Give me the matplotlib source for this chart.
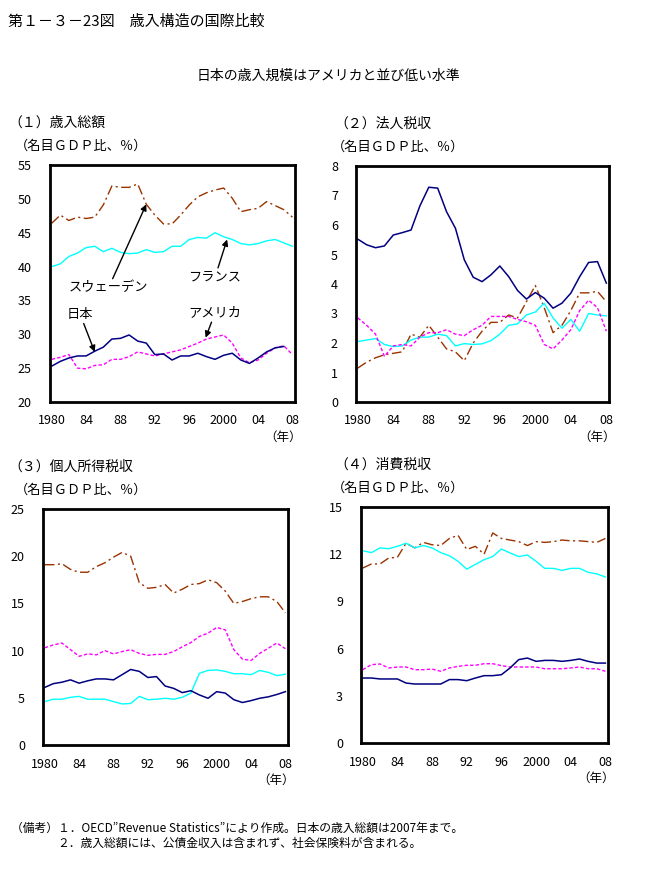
import matplotlib
matplotlib.use("Agg")
import matplotlib.pyplot as plt

plt.rcParams['font.family'] = ['Noto Sans CJK JP', 'DejaVu Sans']

years = list(range(1980, 2009))
years_jp_total = list(range(1980, 2008))

# (1) total revenue (% of nominal GDP)
total_japan = [25.3, 26.0, 26.5, 26.8, 26.8, 27.5, 28.1, 29.3, 29.4, 29.9, 29.0, 28.7, 27.0, 27.1,
               26.2, 26.8, 26.8, 27.2, 26.7, 26.3, 26.9, 27.2, 26.2, 25.7, 26.5, 27.4, 28.0, 28.2]
total_usa = [26.3, 26.6, 27.0, 25.0, 24.9, 25.4, 25.5, 26.3, 26.3, 26.7, 27.4, 27.1, 26.8, 27.1,
             27.4, 27.7, 28.2, 28.7, 29.3, 29.6, 29.9, 28.7, 26.5, 25.8, 26.2, 27.2, 28.0, 28.3, 27.0]
total_france = [40.0, 40.4, 41.5, 42.0, 42.8, 43.0, 42.2, 42.7, 42.1, 41.9, 42.0, 42.5, 42.1, 42.2,
                43.0, 43.0, 44.0, 44.3, 44.2, 45.0, 44.4, 44.0, 43.4, 43.2, 43.4, 43.8, 44.0, 43.5, 43.0]
total_sweden = [46.4, 47.6, 46.8, 47.3, 47.1, 47.3, 49.1, 51.9, 51.7, 51.7, 52.2, 49.2, 47.6, 46.3,
                46.3, 47.6, 49.1, 50.3, 50.9, 51.3, 51.6, 50.1, 48.1, 48.4, 48.6, 49.6, 49.0, 48.4, 47.3]

# (2) corporate tax
corp_japan = [5.52, 5.33, 5.23, 5.29, 5.66, 5.74, 5.83, 6.65, 7.28, 7.25, 6.45, 5.89, 4.82, 4.23,
              4.08, 4.31, 4.61, 4.25, 3.78, 3.49, 3.71, 3.52, 3.18, 3.35, 3.69, 4.25, 4.73, 4.76, 4.03]
corp_usa = [2.85, 2.6, 2.3, 1.55, 1.9, 1.95, 1.9, 2.2, 2.35, 2.35, 2.45, 2.3, 2.25, 2.45,
            2.6, 2.9, 2.9, 2.9, 2.8, 2.72, 2.6, 1.95, 1.8, 2.1, 2.45, 3.1, 3.45, 3.2, 2.4]
corp_france = [2.05, 2.1, 2.15, 1.95, 1.88, 1.9, 2.1, 2.2, 2.2, 2.3, 2.25, 1.9, 1.98, 1.95,
               1.97, 2.08, 2.3, 2.6, 2.65, 2.95, 3.05, 3.35, 2.85, 2.5, 2.8, 2.4, 3.0, 2.95, 2.92]
corp_sweden = [1.15, 1.35, 1.5, 1.6, 1.65, 1.7, 2.3, 2.2, 2.6, 2.2, 1.8, 1.7, 1.4, 2.0,
               2.4, 2.7, 2.7, 2.95, 2.85, 3.4, 3.95, 3.2, 2.35, 2.6, 3.1, 3.7, 3.7, 3.75, 3.4]

# (3) personal income tax
pit_japan = [6.1, 6.5, 6.65, 6.9, 6.55, 6.8, 7.0, 7.0, 6.9, 7.45, 8.0, 7.8, 7.15, 7.25,
             6.25, 6.0, 5.55, 5.75, 5.3, 4.95, 5.65, 5.5, 4.8, 4.5, 4.7, 4.95, 5.1, 5.35, 5.65]
pit_usa = [10.3, 10.6, 10.8, 10.1, 9.4, 9.65, 9.55, 10.0, 9.65, 9.9, 10.1, 9.7, 9.5, 9.6,
           9.6, 9.9, 10.4, 10.85, 11.5, 11.85, 12.45, 12.2, 10.1, 9.1, 8.95, 9.7, 10.25, 10.8, 10.2]
pit_france = [4.6, 4.85, 4.85, 5.05, 5.15, 4.85, 4.85, 4.85, 4.6, 4.35, 4.4, 5.15, 4.8, 4.85,
              4.95, 4.85, 5.05, 5.5, 7.6, 7.9, 7.95, 7.8, 7.55, 7.55, 7.45, 7.9, 7.7, 7.35, 7.5]
pit_sweden = [19.1, 19.1, 19.2, 18.6, 18.3, 18.3, 18.9, 19.3, 19.9, 20.4, 20.0, 17.2, 16.6, 16.7,
              17.0, 16.1, 16.5, 17.0, 17.1, 17.5, 17.2, 16.3, 15.0, 15.2, 15.5, 15.7, 15.7, 15.2, 14.0]

# (4) consumption tax
cons_japan = [4.13, 4.13, 4.07, 4.07, 4.07, 3.81, 3.75, 3.75, 3.75, 3.75, 4.03, 4.03, 3.96, 4.13,
              4.28, 4.28, 4.34, 4.77, 5.3, 5.4, 5.19, 5.25, 5.25, 5.19, 5.25, 5.34, 5.19, 5.08, 5.08]
cons_usa = [4.66, 4.98, 5.02, 4.77, 4.83, 4.83, 4.66, 4.66, 4.7, 4.56, 4.77, 4.87, 4.94, 4.94,
            5.04, 5.04, 4.92, 4.83, 4.83, 4.83, 4.83, 4.72, 4.72, 4.72, 4.77, 4.83, 4.72, 4.72, 4.56]
cons_france = [12.22, 12.1, 12.4, 12.35, 12.5, 12.7, 12.4, 12.55, 12.4, 12.1, 11.9, 11.55, 11.05, 11.35,
               11.65, 11.85, 12.33, 12.08, 11.85, 11.95, 11.55, 11.1, 11.1, 10.97, 11.1, 11.1, 10.85, 10.75, 10.55]
cons_sweden = [11.12, 11.38, 11.38, 11.76, 11.8, 12.7, 12.4, 12.75, 12.6, 12.55, 13.0, 13.2, 12.3, 12.5,
               12.0, 13.35, 13.0, 12.9, 12.8, 12.55, 12.8, 12.75, 12.8, 12.9, 12.85, 12.85, 12.8, 12.75, 13.0]

xtick_pos = [1980, 1984, 1988, 1992, 1996, 2000, 2004, 2008]
xtick_labels = ["1980", "84", "88", "92", "96", "2000", "04", "08"]

panel_titles = ["（１）歳入総額", "（２）法人税収", "（３）個人所得税収", "（４）消費税収"]
unit_label = "（名目ＧＤＰ比、％）"

C_JP = "#000080"
C_US = "#FF00FF"
C_FR = "#00FFFF"
C_SE = "#993300"

W, H = 658, 893
fig = plt.figure(figsize=(W / 100, H / 100), dpi=100)


def add_axes(l, t, r, b):
    return fig.add_axes([l / W, 1 - b / H, (r - l) / W, (b - t) / H])


panels = [
    dict(box=(50, 165, 295, 402), ylim=(20, 55), yt=list(range(20, 56, 5)),
         data=(total_japan, total_usa, total_france, total_sweden), jp_years=years_jp_total,
         tx=8, ux=15),
    dict(box=(356, 166, 609, 402), ylim=(0, 8), yt=list(range(0, 9, 1)),
         data=(corp_japan, corp_usa, corp_france, corp_sweden), jp_years=years,
         tx=334, ux=332),
    dict(box=(43, 509, 288, 745), ylim=(0, 25), yt=list(range(0, 26, 5)),
         data=(pit_japan, pit_usa, pit_france, pit_sweden), jp_years=years,
         tx=8, ux=15),
    dict(box=(361, 507, 608, 743), ylim=(0, 15), yt=list(range(0, 16, 3)),
         data=(cons_japan, cons_usa, cons_france, cons_sweden), jp_years=years,
         tx=334, ux=332),
]

axes = []
for i, p in enumerate(panels):
    ax = add_axes(*p["box"])
    jp, us, fr, se = p["data"]
    ax.plot(years, se, color=C_SE, lw=1.0, dashes=(7, 2.5, 1.5, 2.5))
    ax.plot(years, fr, color=C_FR, lw=1.0)
    ax.plot(years, us, color=C_US, lw=1.0, dashes=(2.5, 1.5))
    ax.plot(p["jp_years"], jp, color=C_JP, lw=1.1)
    ax.set_xlim(1979.8, 2008.3)
    ax.set_ylim(*p["ylim"])
    ax.set_yticks(p["yt"])
    ax.set_yticklabels([str(v) for v in p["yt"]])
    ax.set_xticks(xtick_pos)
    ax.set_xticklabels(xtick_labels)
    ax.tick_params(length=0, labelsize=9, pad=0)
    ax.tick_params(axis='y', pad=13)
    ax.tick_params(axis='x', pad=9)
    for s in ax.spines.values():
        s.set_linewidth(2.0)
    l, t, r, b = p["box"]
    fig.text(p["tx"] / W, 1 - (t - 42) / H, panel_titles[i], fontsize=10, va='center', ha='left')
    fig.text(p["ux"] / W, 1 - (t - 19) / H, unit_label, fontsize=9.5, va='center', ha='left')
    fig.text((r + 7) / W, 1 - (b + 35) / H, "（年）", fontsize=9, va='center', ha='right')
    axes.append(ax)

ax1 = axes[0]
arrow = dict(arrowstyle='-|>', color='black', lw=1.0, mutation_scale=9, shrinkA=0, shrinkB=0)
ax1.annotate("スウェーデン", xy=(1991.0, 49.2), xytext=(1986.6, 37.8), fontsize=9.5,
             ha='center', va='top', arrowprops=arrow)
ax1.annotate("フランス", xy=(2000.4, 44.0), xytext=(1999.0, 39.4), fontsize=9.5,
             ha='center', va='top', arrowprops=arrow)
ax1.annotate("アメリカ", xy=(1997.9, 29.5), xytext=(1999.0, 32.2), fontsize=9.5,
             ha='center', va='bottom', arrowprops=arrow)
ax1.annotate("日本", xy=(1985.0, 27.4), xytext=(1983.3, 32.0), fontsize=9.5,
             ha='center', va='bottom', arrowprops=arrow)

fig.text(8 / W, 1 - 22 / H, "第１－３－23図　歳入構造の国際比較", fontsize=10.8, va='center', ha='left')
fig.text(328 / W, 1 - 76 / H, "日本の歳入規模はアメリカと並び低い水準", fontsize=10, va='center', ha='center')
fig.text(11 / W, 1 - 828 / H, "（備考）１．OECD\u201dRevenue Statistics\u201dにより作成。日本の歳入総額は2007年まで。",
         fontsize=8.5, va='center', ha='left')
fig.text(57 / W, 1 - 843 / H, "２．歳入総額には、公債金収入は含まれず、社会保険料が含まれる。",
         fontsize=8.5, va='center', ha='left')

fig.savefig("out.png", dpi=100)
